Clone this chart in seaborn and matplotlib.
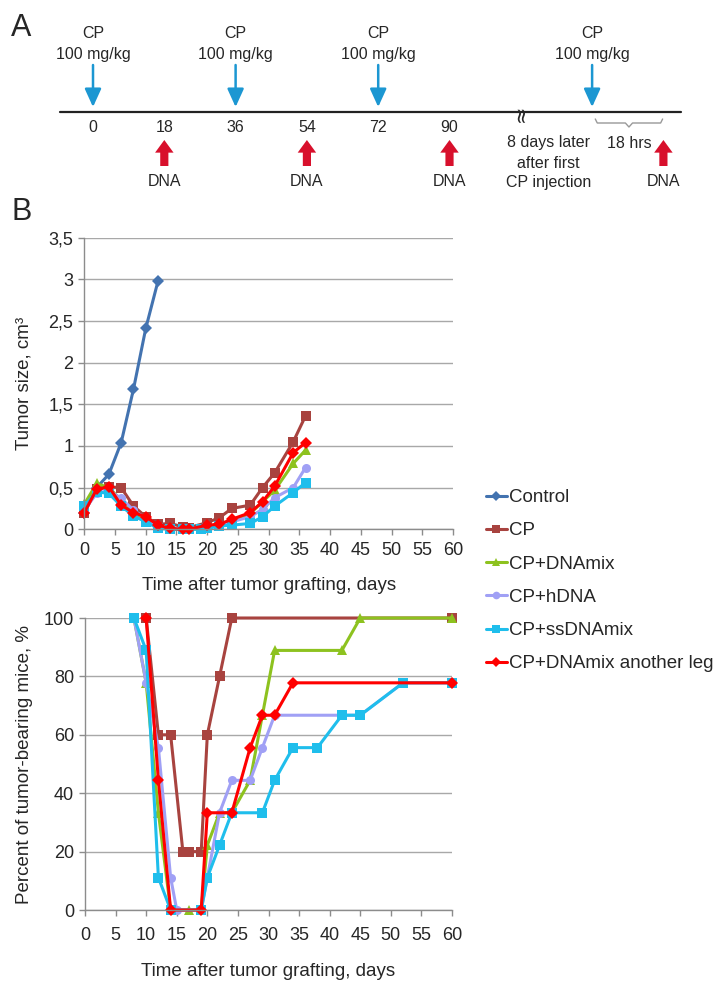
import numpy as np
import matplotlib as mpl
mpl.use("Agg")
import matplotlib.pyplot as plt
import pandas as pd
import seaborn as sns
from matplotlib.ticker import FuncFormatter

# ---- panel A schedule (hours) ----
cp_hours = [0, 36, 72, 126]
dna_hours = [18, 54, 90, 144]
tick_hours = [0, 18, 36, 54, 72, 90]
break_hour = 108

groups = ["Control", "CP", "CP+DNAmix", "CP+hDNA", "CP+ssDNAmix", "CP+DNAmix another leg"]

# ---- tumor size, cm3 ----
control_days = [0, 2, 4, 6, 8, 10, 12]
control_size = [0.2, 0.5, 0.66, 1.04, 1.68, 2.41, 2.98]
cp_days = [0, 2, 4, 6, 8, 10, 12, 14, 16, 17, 20, 22, 24, 27, 29, 31, 34, 36]
cp_size = [0.2, 0.48, 0.51, 0.5, 0.28, 0.15, 0.06, 0.07, 0.03, 0.02, 0.08, 0.14, 0.25, 0.29, 0.5, 0.68, 1.05, 1.36]
mix_days = [0, 2, 4, 6, 8, 10, 12, 14, 16, 17, 19, 20, 22, 24, 27, 29, 31, 34, 36]
mix_size = [0.3, 0.55, 0.5, 0.35, 0.19, 0.09, 0.03, 0, 0, 0, 0, 0.03, 0.05, 0.09, 0.19, 0.33, 0.47, 0.79, 0.95]
hdna_days = [0, 2, 4, 6, 8, 10, 12, 14, 16, 17, 20, 22, 24, 27, 29, 31, 34, 36]
hdna_size = [0.23, 0.43, 0.47, 0.37, 0.23, 0.13, 0.04, 0.01, 0.01, 0.01, 0.02, 0.05, 0.09, 0.15, 0.24, 0.38, 0.5, 0.74]
ss_days = [0, 2, 4, 6, 8, 10, 12, 14, 16, 17, 19, 20, 22, 24, 27, 29, 31, 34, 36]
ss_size = [0.28, 0.45, 0.43, 0.28, 0.16, 0.09, 0.01, 0, 0, 0, 0, 0.01, 0.04, 0.05, 0.07, 0.15, 0.28, 0.44, 0.56]
leg_days = [0, 2, 4, 6, 8, 10, 12, 14, 16, 17, 20, 22, 24, 27, 29, 31, 34, 36]
leg_size = [0.2, 0.48, 0.51, 0.29, 0.2, 0.15, 0.05, 0.01, 0, 0, 0.05, 0.06, 0.12, 0.2, 0.33, 0.52, 0.92, 1.04]

# ---- percent of tumor-bearing mice ----
cp_pct_days = [10, 12, 14, 16, 17, 19, 20, 22, 24, 60]
cp_pct = [100, 60, 60, 20, 20, 20, 60, 80, 100, 100]
mix_pct_days = [8, 10, 12, 14, 17, 19, 20, 22, 24, 27, 29, 31, 42, 45, 60]
mix_pct = [100, 77.8, 33.3, 0, 0, 0, 22.2, 33.3, 33.3, 44.4, 66.7, 88.9, 88.9, 100, 100]
hdna_pct_days = [8, 10, 12, 14, 15, 19, 20, 22, 24, 27, 29, 31, 42, 45, 52, 60]
hdna_pct = [100, 77.8, 55.6, 11.1, 0, 0, 11.1, 33.3, 44.4, 44.4, 55.6, 66.7, 66.7, 66.7, 77.8, 77.8]
ss_pct_days = [8, 10, 12, 14, 19, 20, 22, 24, 29, 31, 34, 38, 42, 45, 52, 60]
ss_pct = [100, 88.9, 11.1, 0, 0, 11.1, 22.2, 33.3, 33.3, 44.4, 55.6, 55.6, 66.7, 66.7, 77.8, 77.8]
leg_pct_days = [10, 12, 14, 19, 20, 24, 27, 29, 31, 34, 60]
leg_pct = [100, 44.4, 0, 0, 33.3, 33.3, 55.6, 66.7, 66.7, 77.8, 77.8]

colors = {"Control": "#4373B0", "CP": "#A8433F", "CP+DNAmix": "#8DC21F",
          "CP+hDNA": "#A0A0F5", "CP+ssDNAmix": "#1FBEEC", "CP+DNAmix another leg": "#FF0000"}
markers = {"Control": "D", "CP": "s", "CP+DNAmix": "^", "CP+hDNA": "o",
           "CP+ssDNAmix": "s", "CP+DNAmix another leg": "D"}


def long_df(pairs):
    rows = []
    for name, (days, vals) in pairs.items():
        for d, v in zip(days, vals):
            rows.append({"group": name, "day": d, "value": v})
    return pd.DataFrame(rows)


size_df = long_df({"Control": (control_days, control_size), "CP": (cp_days, cp_size),
                   "CP+DNAmix": (mix_days, mix_size), "CP+hDNA": (hdna_days, hdna_size),
                   "CP+ssDNAmix": (ss_days, ss_size), "CP+DNAmix another leg": (leg_days, leg_size)})
pct_df = long_df({"CP": (cp_pct_days, cp_pct), "CP+DNAmix": (mix_pct_days, mix_pct),
                  "CP+hDNA": (hdna_pct_days, hdna_pct), "CP+ssDNAmix": (ss_pct_days, ss_pct),
                  "CP+DNAmix another leg": (leg_pct_days, leg_pct)})

sns.set_theme(style="white")
plt.rcParams["font.family"] = ["Liberation Sans", "DejaVu Sans"]

fig = plt.figure(figsize=(7.26, 9.88), dpi=100)

# ---------------- panel A: injection schedule ----------------
ax0 = fig.add_axes([0, 1 - 200 / 988, 1, 200 / 988])
ax0.set_xlim(-23.48, 159.8)
ax0.set_ylim(200, 0)
ax0.axis("off")

blue = "#1C97D2"
red = "#D8102C"
ax0.plot([-8.3, 148.4], [112, 112], color="#222222", lw=1.6)
for h in cp_hours:
    ax0.text(h, 33, "CP", ha="center", va="center", fontsize=11.5)
    ax0.text(h, 55, "100 mg/kg", ha="center", va="center", fontsize=11.5)
    ax0.annotate("", xy=(h, 107), xytext=(h, 65),
                 arrowprops=dict(arrowstyle="-|>,head_length=0.55,head_width=0.25",
                                 color=blue, lw=1.8, mutation_scale=20,
                                 shrinkA=0, shrinkB=0))
for h in dna_hours:
    ax0.annotate("", xy=(h, 140), xytext=(h, 166),
                 arrowprops=dict(arrowstyle="simple,head_length=0.65,head_width=0.95,tail_width=0.42",
                                 color=red, lw=0, mutation_scale=14,
                                 shrinkA=0, shrinkB=0))
    ax0.text(h, 182, "DNA", ha="center", va="center", fontsize=11.5)
for h in tick_hours:
    ax0.text(h, 128, str(h), ha="center", va="center", fontsize=11.5)

ax0.text(break_hour, 113, "≈", rotation=90, ha="center", va="center",
         fontsize=15, family="DejaVu Sans")
ax0.text(115, 143, "8 days later", ha="center", va="center", fontsize=11.5)
ax0.text(115, 163, "after first", ha="center", va="center", fontsize=11.5)
ax0.text(115, 182, "CP injection", ha="center", va="center", fontsize=11.5)
ax0.plot([126.8, 127.3, 134.4, 135.3, 136.2, 143.3, 143.8],
         [119, 123, 123, 127, 123, 123, 119], color="#999999", lw=1)
ax0.text(135.3, 143, "18 hrs", ha="center", va="center", fontsize=11.5)

fig.text(21 / 726, 1 - 28 / 988, "A", ha="center", va="center", fontsize=22)
fig.text(22 / 726, 1 - 212 / 988, "B", ha="center", va="center", fontsize=22)

# ---------------- panel B ----------------
ax1 = fig.add_axes([84.3 / 726, 1 - 529.3 / 988, (453 - 84.3) / 726, (529.3 - 237.6) / 988])
ax2 = fig.add_axes([85 / 726, 1 - 910 / 988, (452 - 85) / 726, (910 - 618) / 988])

line_kw = dict(linewidth=2.2, markersize=6.5, markeredgewidth=0, clip_on=False,
               estimator=None, errorbar=None, sort=False)

sns.lineplot(data=size_df, x="day", y="value", hue="group", style="group",
             hue_order=groups, style_order=groups, palette=colors, markers=markers,
             dashes=False, ax=ax1, **line_kw)
sns.lineplot(data=pct_df, x="day", y="value", hue="group", style="group",
             hue_order=groups[1:], style_order=groups[1:], palette=colors, markers=markers,
             dashes=False, ax=ax2, legend=False, **line_kw)

handles, labels = ax1.get_legend_handles_labels()
ax1.legend_.remove()

for ax in (ax1, ax2):
    ax.set_xlim(0, 60)
    ax.set_xticks(np.arange(0, 61, 5))
    ax.set_axisbelow(True)
    ax.yaxis.grid(True, color="#A8A8A8", lw=1)
    ax.xaxis.grid(False)
    for s in ("top", "right"):
        ax.spines[s].set_visible(False)
    for s in ("left", "bottom"):
        ax.spines[s].set_color("#8C8C8C")
        ax.spines[s].set_linewidth(1)
    ax.tick_params(axis="both", which="major", direction="out", length=4, width=1,
                   color="#8C8C8C", labelsize=13, pad=4, bottom=True, left=True)

ax1.tick_params(axis="x", pad=5)
ax2.tick_params(axis="x", pad=8)
ax1.set_xlabel("Time after tumor grafting, days", fontsize=13.5, labelpad=13)
ax2.set_xlabel("Time after tumor grafting, days", fontsize=13.5, labelpad=14)

ax1.set_ylim(0, 3.5)
ax1.set_yticks(np.arange(0, 3.51, 0.5))
ax1.yaxis.set_major_formatter(FuncFormatter(lambda v, p: f"{v:g}".replace(".", ",")))
ax1.set_ylabel("Tumor size, cm³", fontsize=13.5, labelpad=11)

ax2.set_ylim(0, 100)
ax2.set_yticks(np.arange(0, 101, 20))
ax2.set_ylabel("Percent of tumor-bearing mice, %", fontsize=13.5, labelpad=8)

for hd in handles:
    hd.set_markersize(5.5)
    hd.set_linewidth(2.2)
fig.legend(handles, labels, loc="upper left", bbox_to_anchor=(486 / 726, 1 - 489 / 988),
           frameon=False, fontsize=13.5, handlelength=1.1, handletextpad=0.15,
           labelspacing=0.86, borderpad=0, borderaxespad=0)

fig.savefig("out.png", dpi=100)
